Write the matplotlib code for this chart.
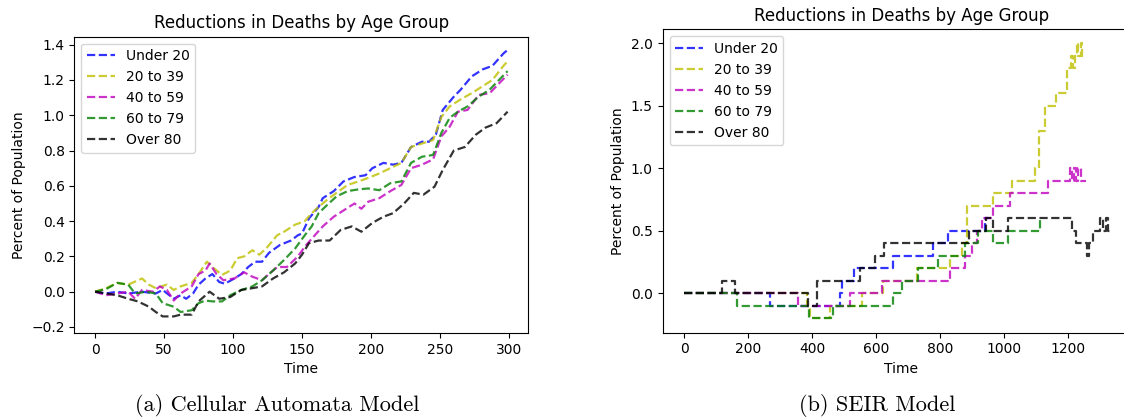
import matplotlib
matplotlib.use("Agg")
import matplotlib.pyplot as plt

# ---------------- data: (a) Cellular Automata Model ----------------
ca_labels = ["Under 20", "20 to 39", "40 to 59", "60 to 79", "Over 80"]
ca_colors = ["b", "y", "m", "g", "k"]

ca_t_under20 = [0, 8, 16, 24, 34, 44, 49, 57, 62, 66, 71, 75, 80, 85, 90, 94, 101, 106, 111, 116, 121,
                126, 134, 142, 147, 150, 155, 162, 165, 173, 180, 188, 196, 201, 209, 216, 222, 229,
                237, 242, 247, 252, 260, 265, 273, 281, 288, 296, 299]
ca_v_under20 = [0, -0.01, 0.0, -0.01, 0.0, -0.01, 0.01, -0.04, -0.02, -0.04, -0.01, 0.04, 0.075, 0.10,
                0.055, 0.045, 0.075, 0.10, 0.14, 0.17, 0.17, 0.22, 0.265, 0.29, 0.32, 0.33, 0.415,
                0.48, 0.53, 0.57, 0.625, 0.65, 0.66, 0.70, 0.73, 0.72, 0.73, 0.82, 0.85, 0.85, 0.89,
                1.03, 1.105, 1.145, 1.22, 1.26, 1.28, 1.35, 1.37]

ca_t_20to39 = [0, 8, 16, 24, 34, 39, 44, 52, 57, 62, 70, 75, 81, 85, 92, 98, 103, 108, 114, 119, 124,
               132, 137, 145, 152, 157, 162, 168, 175, 183, 191, 198, 206, 214, 222, 229, 237, 245,
               251, 257, 265, 273, 281, 288, 296, 299]
ca_v_20to39 = [0, 0.02, 0.05, 0.04, 0.075, 0.04, 0.02, 0.04, 0.01, 0.03, 0.05, 0.10, 0.17, 0.14, 0.095,
               0.12, 0.19, 0.20, 0.235, 0.21, 0.245, 0.32, 0.34, 0.38, 0.40, 0.445, 0.48, 0.52, 0.56,
               0.605, 0.625, 0.645, 0.67, 0.70, 0.73, 0.82, 0.84, 0.86, 0.99, 1.05, 1.09, 1.125,
               1.165, 1.20, 1.28, 1.305]

ca_t_40to59 = [0, 8, 16, 24, 29, 34, 42, 47, 52, 57, 62, 70, 75, 80, 83, 88, 93, 101, 108, 114, 121,
               126, 132, 139, 147, 152, 157, 165, 173, 180, 188, 193, 198, 206, 214, 222, 229, 237,
               245, 251, 257, 263, 270, 278, 286, 294, 299]
ca_v_40to59 = [0, -0.02, -0.01, 0.0, -0.04, 0.01, 0.0, 0.03, 0.01, -0.05, -0.01, 0.03, 0.10, 0.12,
               0.16, 0.10, 0.065, 0.075, 0.11, 0.085, 0.065, 0.10, 0.14, 0.14, 0.20, 0.255, 0.30,
               0.37, 0.425, 0.46, 0.50, 0.47, 0.51, 0.53, 0.57, 0.605, 0.70, 0.72, 0.75, 0.88,
               0.935, 1.02, 1.03, 1.115, 1.125, 1.19, 1.23]

ca_t_60to79 = [0, 8, 16, 24, 29, 37, 44, 49, 57, 62, 70, 75, 80, 85, 92, 98, 106, 114, 121, 129, 137,
               145, 152, 157, 162, 168, 175, 183, 191, 198, 206, 214, 222, 229, 237, 245, 251, 257,
               263, 270, 278, 286, 294, 299]
ca_v_60to79 = [0, 0.015, 0.05, 0.04, -0.01, 0.0, -0.01, -0.065, -0.085, -0.115, -0.105, -0.065, -0.05,
               -0.055, -0.055, -0.02, 0.01, 0.03, 0.065, 0.12, 0.18, 0.245, 0.32, 0.37, 0.445, 0.49,
               0.54, 0.57, 0.58, 0.585, 0.575, 0.615, 0.625, 0.73, 0.765, 0.775, 0.90, 0.985, 1.02,
               1.05, 1.105, 1.145, 1.21, 1.25]

ca_t_over80 = [0, 8, 16, 24, 31, 39, 44, 49, 57, 62, 70, 75, 83, 90, 98, 106, 114, 121, 129, 137, 145,
               150, 155, 162, 170, 178, 186, 193, 201, 209, 216, 224, 231, 238, 246, 252, 260, 268,
               276, 283, 291, 299]
ca_v_over80 = [0, -0.01, -0.02, -0.04, -0.055, -0.085, -0.115, -0.14, -0.14, -0.13, -0.13, -0.055,
               0.0, -0.04, -0.03, 0.01, 0.02, 0.03, 0.075, 0.11, 0.16, 0.21, 0.275, 0.29, 0.29, 0.35,
               0.37, 0.34, 0.39, 0.425, 0.445, 0.50, 0.56, 0.55, 0.595, 0.69, 0.80, 0.82, 0.89,
               0.93, 0.955, 1.02]

ca_series = [(ca_t_under20, ca_v_under20), (ca_t_20to39, ca_v_20to39), (ca_t_40to59, ca_v_40to59),
             (ca_t_60to79, ca_v_60to79), (ca_t_over80, ca_v_over80)]

# ---------------- data: (b) SEIR Model (step changes) ----------------
seir_t_under20 = [0, 269, 487, 495, 530, 654, 779, 826, 940, 950]
seir_v_under20 = [0, -0.1, 0.0, 0.1, 0.2, 0.3, 0.4, 0.5, 0.6, 0.6]

seir_t_20to39 = [0, 385, 395, 456, 555, 623, 727, 831, 868, 884, 967, 1026, 1097, 1110, 1128, 1162,
                 1198, 1210, 1216, 1222, 1228, 1232, 1240, 1245, 1250, 1255]
seir_v_20to39 = [0, -0.1, -0.2, -0.1, 0.0, 0.1, 0.2, 0.3, 0.4, 0.7, 0.8, 0.9, 1.0, 1.3, 1.5, 1.6,
                 1.8, 1.9, 1.8, 1.9, 2.0, 1.9, 2.0, 1.9, 1.9, 1.9]

seir_t_40to59 = [0, 355, 519, 618, 831, 878, 899, 915, 930, 967, 1019, 1139, 1206, 1212, 1220, 1226,
                 1232, 1240, 1246, 1255]
seir_v_40to59 = [0, -0.1, 0.0, 0.1, 0.2, 0.3, 0.4, 0.5, 0.6, 0.7, 0.8, 0.9, 1.0, 0.9, 1.0, 0.9,
                 1.0, 0.9, 0.9, 0.9]

seir_t_60to79 = [0, 165, 389, 466, 654, 680, 732, 794, 877, 919, 967, 1013, 1113, 1116]
seir_v_60to79 = [0, -0.1, -0.2, -0.1, 0.0, 0.1, 0.2, 0.3, 0.4, 0.5, 0.4, 0.5, 0.6, 0.6]

seir_t_over80 = [0, 120, 160, 388, 415, 550, 597, 625, 890, 945, 966, 1013, 1211, 1225, 1260, 1266,
                 1279, 1300, 1310, 1318, 1325, 1331]
seir_v_over80 = [0, 0.1, 0.0, -0.1, 0.1, 0.2, 0.3, 0.4, 0.5, 0.6, 0.5, 0.6, 0.5, 0.4, 0.3, 0.4,
                 0.5, 0.6, 0.5, 0.6, 0.5, 0.5]

seir_series = [(seir_t_under20, seir_v_under20), (seir_t_20to39, seir_v_20to39),
               (seir_t_40to59, seir_v_40to59), (seir_t_60to79, seir_v_60to79),
               (seir_t_over80, seir_v_over80)]

title = "Reductions in Deaths by Age Group"
captions = ["(a) Cellular Automata Model", "(b) SEIR Model"]

# ---------------- figure ----------------
W, H = 1124, 419
fig = plt.figure(figsize=(W / 100, H / 100), dpi=100)


def rect(l, t, r, b):
    return [l / W, (H - b) / H, (r - l) / W, (b - t) / H]


ax1 = fig.add_axes(rect(74.4, 36.7, 528.3, 333))
for (t, v), c, lab in zip(ca_series, ca_colors, ca_labels):
    ax1.plot(t, v, "--", color=c, label=lab, lw=1.6, alpha=0.8)
ax1.set_xlim(-15, 314)
ax1.set_ylim(-0.234, 1.445)
ax1.set_xticks([0, 50, 100, 150, 200, 250, 300])
ax1.set_yticks([-0.2, 0.0, 0.2, 0.4, 0.6, 0.8, 1.0, 1.2, 1.4])
ax1.set_title(title, fontsize=12)
ax1.set_xlabel("Time")
ax1.set_ylabel("Percent of Population")
ax1.legend(loc="upper left")

ax2 = fig.add_axes(rect(662.6, 29.3, 1140, 332.7))
for (t, v), c, lab in zip(seir_series, ca_colors, ca_labels):
    ax2.plot(t, v, "--", color=c, label=lab, lw=1.6, alpha=0.8, drawstyle="steps-post")
ax2.set_xlim(-67, 1425)
ax2.set_ylim(-0.315, 2.112)
ax2.set_xticks([0, 200, 400, 600, 800, 1000, 1200])
ax2.set_yticks([0.0, 0.5, 1.0, 1.5, 2.0])
ax2.set_title(title, fontsize=12)
ax2.set_xlabel("Time")
ax2.set_ylabel("Percent of Population")
ax2.legend(loc="upper left")

fig.text(277 / W, 1 - 405 / H, captions[0], family="cmr10", fontsize=16,
         ha="center", va="center")
fig.text(877 / W, 1 - 405 / H, captions[1], family="cmr10", fontsize=16,
         ha="center", va="center")

fig.savefig("out.png", dpi=100)
